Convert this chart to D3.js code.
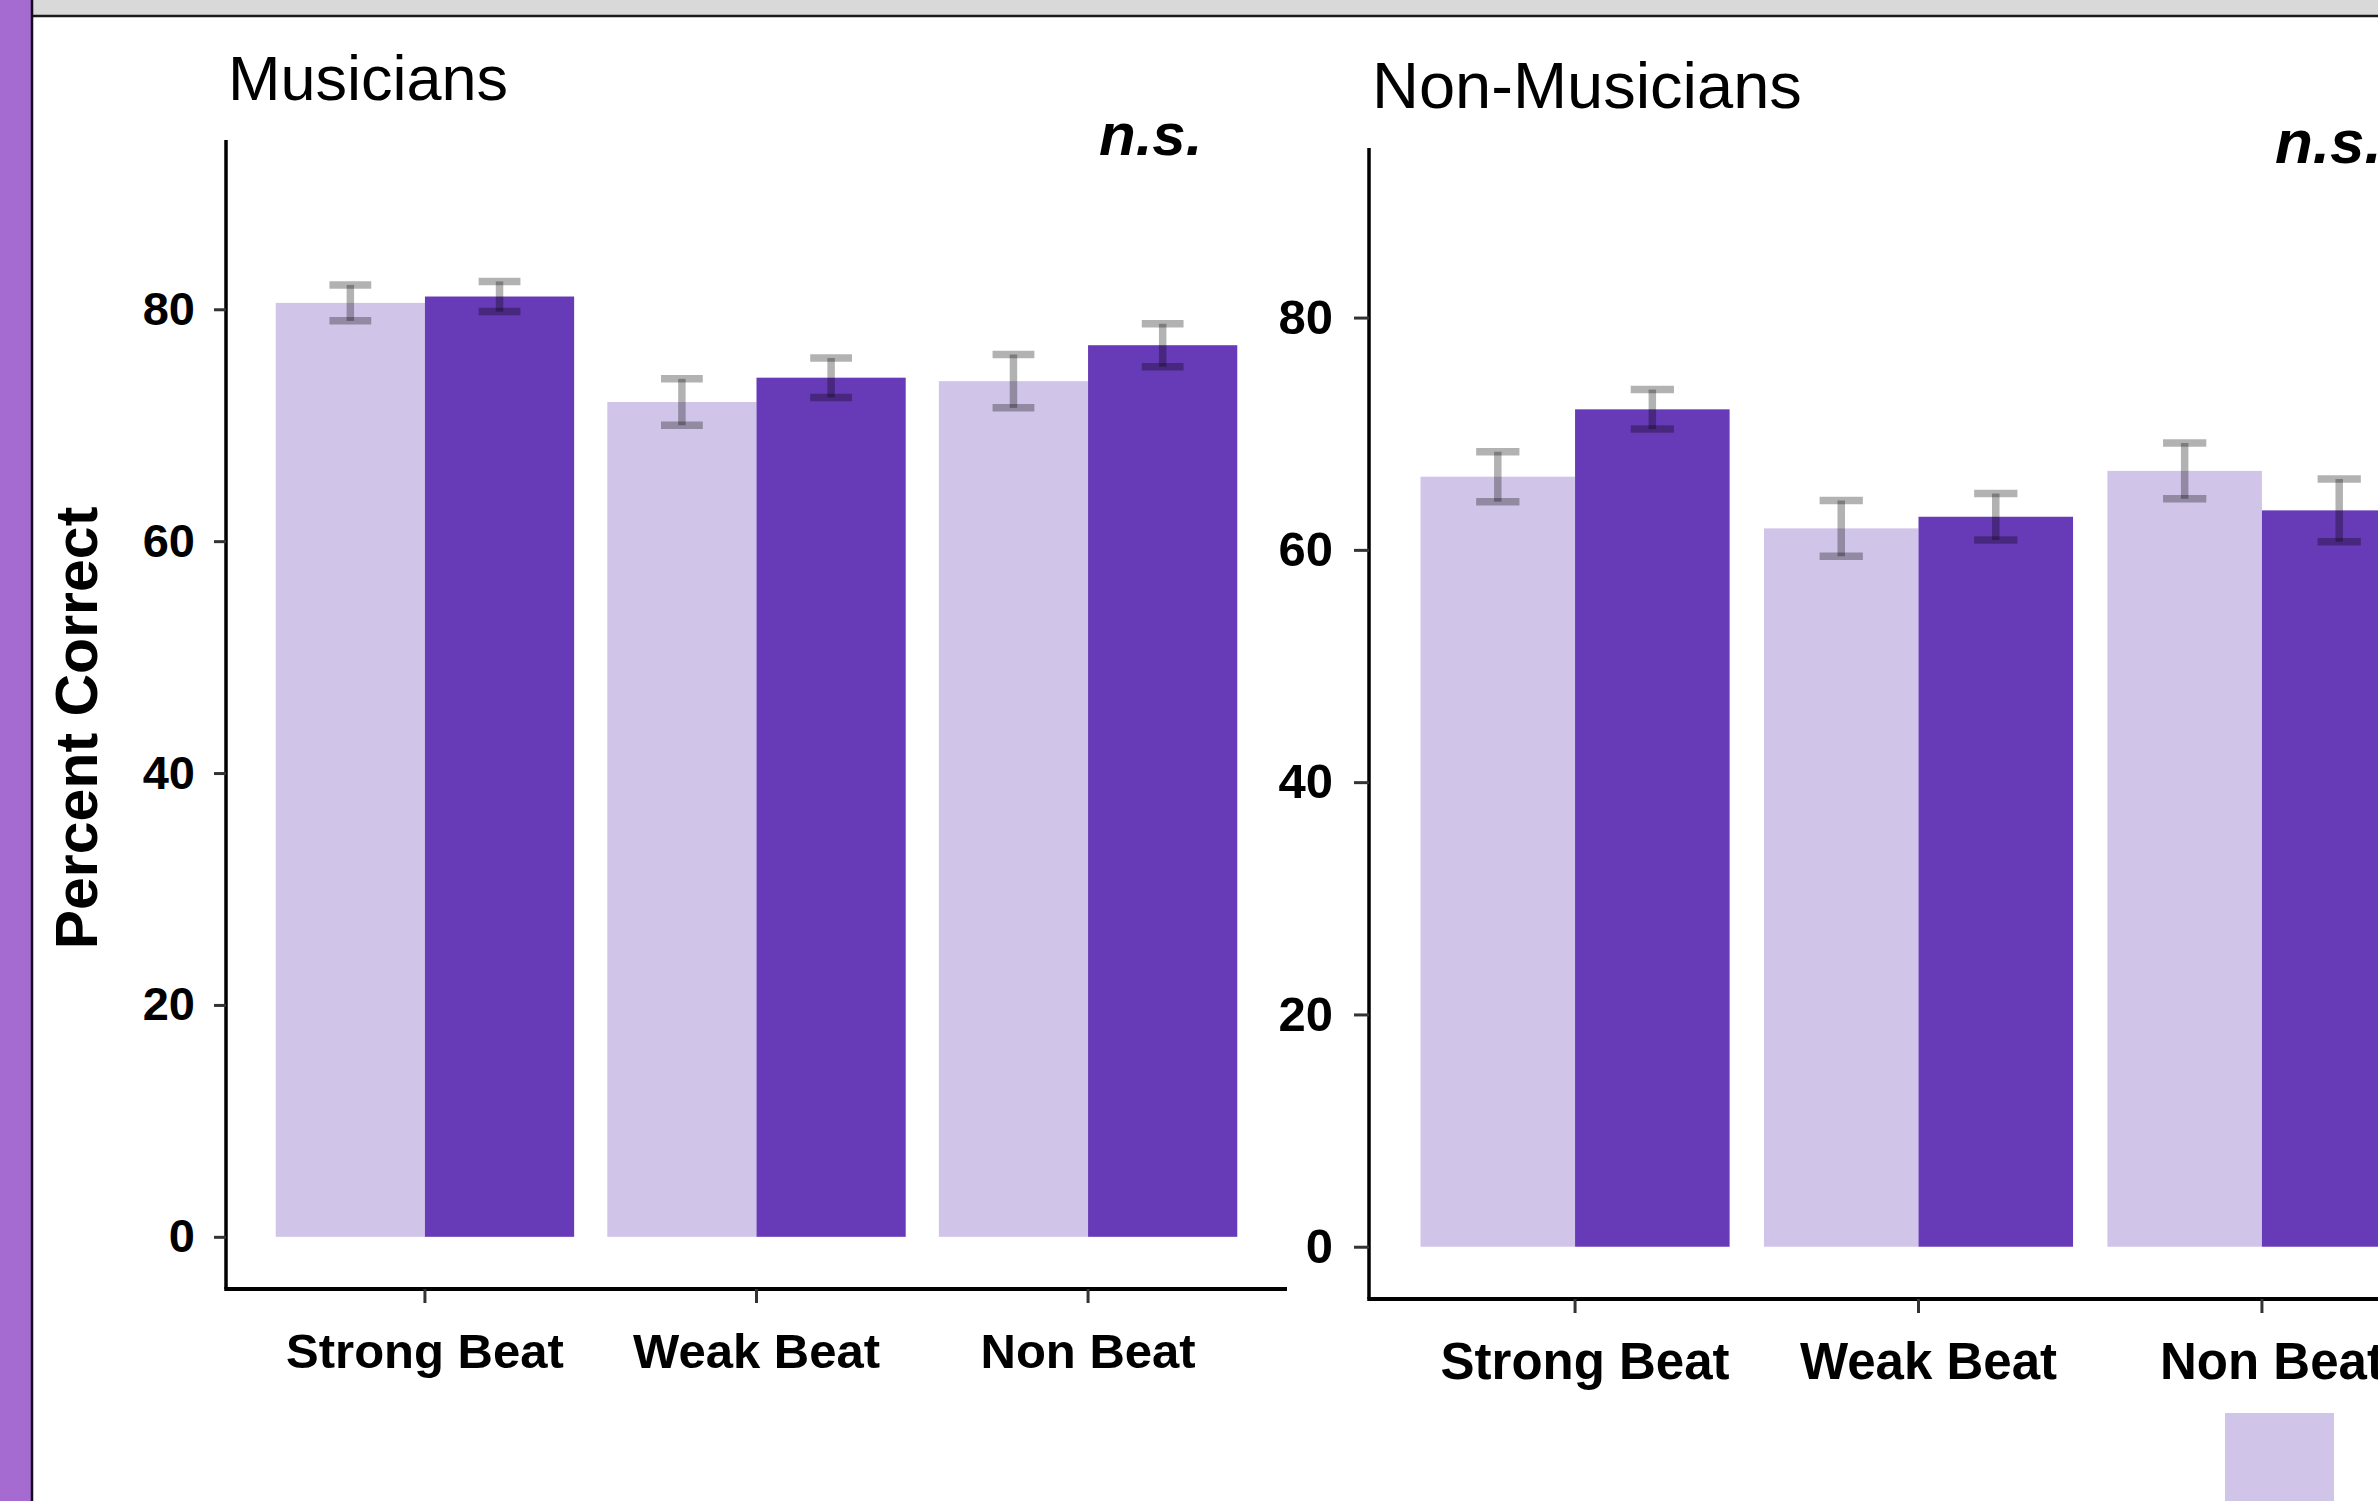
<!DOCTYPE html>
<html>
<head>
<meta charset="utf-8">
<script src="https://cdn.jsdelivr.net/npm/d3@7"></script>
<style>
  html, body { margin: 0; padding: 0; background: #ffffff; }
  svg { display: block; }
  text { font-family: "Liberation Sans", Arial, Helvetica, sans-serif; }
</style>
</head>
<body>
<svg id="chart" width="2378" height="1501"></svg>
<script>
// ---- data ----
const categories = ["Strong Beat", "Weak Beat", "Non Beat"];
const seriesNames = ["Condition A", "Condition B"];
const panelTitles = ["Musicians", "Non-Musicians"];
const yTicks = [0, 20, 40, 60, 80];

// mean percent correct, per category
const musiciansA = [80.55, 72.0, 73.8];
const musiciansB = [81.1, 74.1, 76.9];
const nonMusiciansA = [66.3, 61.85, 66.8];
const nonMusiciansB = [72.1, 62.85, 63.4];

// standard errors, per category
const musiciansSeA = [1.55, 2.0, 2.3];
const musiciansSeB = [1.3, 1.7, 1.85];
const nonMusiciansSeA = [2.15, 2.4, 2.4];
const nonMusiciansSeB = [1.7, 2.0, 2.7];

const significance = ["n.s.", "n.s."];

// ---- build panel tables ----
function rows(meansA, meansB, seA, seB) {
  const out = [];
  categories.forEach((c, i) => {
    out.push({ category: c, series: seriesNames[0], mean: meansA[i], se: seA[i] });
    out.push({ category: c, series: seriesNames[1], mean: meansB[i], se: seB[i] });
  });
  return out;
}
const panelData = [
  rows(musiciansA, musiciansB, musiciansSeA, musiciansSeB),
  rows(nonMusiciansA, nonMusiciansB, nonMusiciansSeA, nonMusiciansSeB)
];

// ---- layout ----
const colors = d3.scaleOrdinal().domain(seriesNames).range(["#d1c4e9", "#673ab7"]);
const yDomain = [-4.5, 94.6];
const panels = [
  { x0: 226, x1: 1287, top: 140, bottom: 1289, tick: 12, tickPad: 19, tickFont: 47, xFont: 49, xShift: 0,
    titleX: 228, titleY: 100, titleFont: 63, sigX: 1099, sigY: 155, sigFont: 60 },
  { x0: 1369, x1: 2468, top: 148, bottom: 1299, tick: 15, tickPad: 21, tickFont: 49, xFont: 51, xShift: 10,
    titleX: 1372, titleY: 108, titleFont: 65, sigX: 2275, sigY: 163, sigFont: 62 }
];

const svg = d3.select("#chart");

// window frame: side strip and top band
svg.append("rect").attr("x", 0).attr("y", 0).attr("width", 2378).attr("height", 1501).attr("fill", "#ffffff");
svg.append("rect").attr("x", 32).attr("y", 0).attr("width", 2346).attr("height", 16).attr("fill", "#d9d9d9");
svg.append("line").attr("x1", 32).attr("x2", 2378).attr("y1", 16).attr("y2", 16)
  .attr("stroke", "#1a1a1a").attr("stroke-width", 2.5);
svg.append("rect").attr("x", 0).attr("y", 0).attr("width", 31).attr("height", 1501).attr("fill", "#a56bd1");
svg.append("line").attr("x1", 32).attr("x2", 32).attr("y1", 0).attr("y2", 1501)
  .attr("stroke", "#140a1e").attr("stroke-width", 2.5);

panels.forEach((p, pi) => {
  const data = panelData[pi];
  const g = svg.append("g");

  const x = d3.scaleBand().domain(categories).range([p.x0, p.x1])
    .paddingInner(0.1).paddingOuter(0.15);
  const xs = d3.scaleBand().domain(seriesNames).range([0, x.bandwidth()]).padding(0);
  const y = d3.scaleLinear().domain(yDomain).range([p.bottom, p.top]);

  // bars
  g.selectAll("rect.bar").data(data).join("rect")
    .attr("class", "bar")
    .attr("x", d => x(d.category) + xs(d.series))
    .attr("width", xs.bandwidth())
    .attr("y", d => y(d.mean))
    .attr("height", d => y(0) - y(d.mean))
    .attr("fill", d => colors(d.series));

  // error bars (semi-transparent, segments overlap at the joins)
  const capW = xs.bandwidth() * 0.28;
  const eb = g.selectAll("g.err").data(data).join("g").attr("class", "err")
    .attr("stroke", "rgba(0,0,0,0.3)").attr("stroke-width", 7.5);
  const cx = d => x(d.category) + xs(d.series) + xs.bandwidth() / 2;
  eb.append("line")
    .attr("x1", cx).attr("x2", cx)
    .attr("y1", d => y(d.mean + d.se)).attr("y2", d => y(d.mean - d.se));
  eb.append("line")
    .attr("x1", d => cx(d) - capW / 2).attr("x2", d => cx(d) + capW / 2)
    .attr("y1", d => y(d.mean + d.se)).attr("y2", d => y(d.mean + d.se));
  eb.append("line")
    .attr("x1", d => cx(d) - capW / 2).attr("x2", d => cx(d) + capW / 2)
    .attr("y1", d => y(d.mean - d.se)).attr("y2", d => y(d.mean - d.se));

  // y axis
  const yAxis = g.append("g").attr("transform", `translate(${p.x0},0)`)
    .call(d3.axisLeft(y).tickValues(yTicks).tickSize(p.tick).tickPadding(p.tickPad).tickSizeOuter(0));
  yAxis.select(".domain").attr("stroke", "#000").attr("stroke-width", 3.5)
    .attr("d", `M0,${p.top}V${p.bottom}`);
  yAxis.selectAll(".tick line").attr("stroke", "#333").attr("stroke-width", 3);
  yAxis.selectAll(".tick text").attr("fill", "#000").attr("font-size", p.tickFont)
    .attr("font-weight", "bold").attr("font-family", "'Liberation Sans', Arial, sans-serif");

  // x axis
  const xAxis = g.append("g").attr("transform", `translate(0,${p.bottom})`)
    .call(d3.axisBottom(x).tickSize(14).tickPadding(30).tickSizeOuter(0));
  xAxis.select(".domain").attr("stroke", "#000").attr("stroke-width", 4)
    .attr("d", `M${p.x0 - 1.75},0H${p.x1}`);
  xAxis.selectAll(".tick line").attr("stroke", "#333").attr("stroke-width", 3);
  xAxis.selectAll(".tick text").attr("fill", "#000").attr("font-size", p.xFont)
    .attr("dx", p.xShift)
    .attr("font-weight", "bold").attr("font-family", "'Liberation Sans', Arial, sans-serif");

  // panel title
  g.append("text").attr("x", p.titleX).attr("y", p.titleY)
    .attr("font-size", p.titleFont).attr("fill", "#000").text(panelTitles[pi]);

  // significance label
  g.append("text").attr("x", p.sigX).attr("y", p.sigY)
    .attr("font-size", p.sigFont).attr("font-weight", "bold").attr("font-style", "italic")
    .attr("fill", "#000").text(significance[pi]);
});

// y axis title
svg.append("text")
  .attr("transform", "translate(97,728) rotate(-90)")
  .attr("text-anchor", "middle")
  .attr("font-size", 59).attr("font-weight", "bold").attr("fill", "#000")
  .text("Percent Correct");

// legend keys (laid out downward from the bottom right)
svg.append("g").selectAll("rect").data(seriesNames).join("rect")
  .attr("x", 2225).attr("y", (d, i) => 1413 + i * 130)
  .attr("width", 109).attr("height", 109)
  .attr("fill", d => colors(d));
</script>
</body>
</html>
